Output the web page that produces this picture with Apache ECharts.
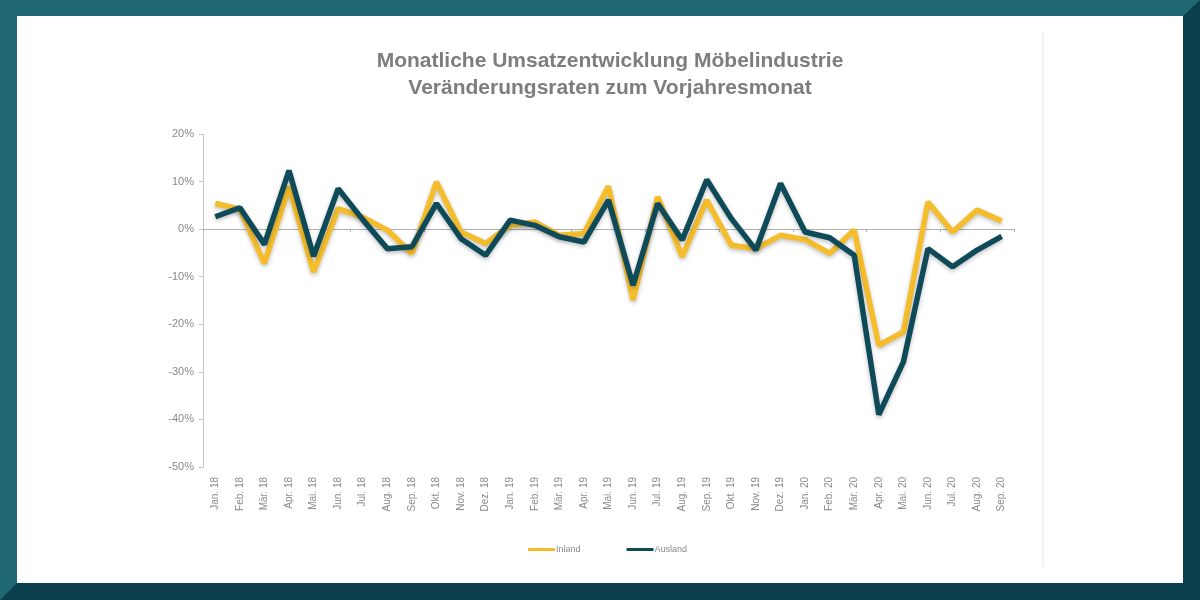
<!DOCTYPE html>
<html>
<head>
<meta charset="utf-8">
<script src="https://cdn.jsdelivr.net/npm/echarts@6/dist/echarts.min.js"></script>
<style>
  html, body { margin: 0; padding: 0; }
  body { width: 1200px; height: 600px; position: relative; overflow: hidden; }
  #frame {
    position: absolute; left: 0; top: 0; width: 1200px; height: 600px;
    box-sizing: border-box; background: #fff;
    border-style: solid; border-width: 16px 17px 17px 17px;
    border-color: #1f6874 #0b3f4c #0b3f4c #1f6874;
  }
  #sep { position: absolute; left: 1042px; top: 32px; width: 2px; height: 535px; background: #f2f2f2; }
  #main { position: absolute; left: 0; top: 0; width: 1200px; height: 600px; }
</style>
</head>
<body>
<div id="frame"></div>
<div id="sep"></div>
<div id="main"></div>
<script>
// Monate Jan. 18 bis Sep. 20
var months = ['Jan. 18', 'Feb. 18', 'Mär. 18', 'Apr. 18', 'Mai. 18', 'Jun. 18', 'Jul. 18', 'Aug. 18', 'Sep. 18', 'Okt. 18', 'Nov. 18', 'Dez. 18',
              'Jan. 19', 'Feb. 19', 'Mär. 19', 'Apr. 19', 'Mai. 19', 'Jun. 19', 'Jul. 19', 'Aug. 19', 'Sep. 19', 'Okt. 19', 'Nov. 19', 'Dez. 19',
              'Jan. 20', 'Feb. 20', 'Mär. 20', 'Apr. 20', 'Mai. 20', 'Jun. 20', 'Jul. 20', 'Aug. 20', 'Sep. 20'];

// Veränderung zum Vorjahresmonat in %
var inland = [5.4, 4.2, -7.2, 8.9, -9.0, 4.3, 2.5, -0.2, -5.1, 9.9, -0.6, -3.0,
              0.8, 1.5, -1.3, -0.9, 9.0, -14.9, 6.8, -5.8, 6.1, -3.4, -4.1, -1.3,
              -2.2, -5.1, -0.2, -24.4, -21.6, 5.7, -0.6, 4.0, 1.7];
var ausland = [2.6, 4.5, -3.2, 12.3, -5.7, 8.5, 2.0, -4.1, -3.7, 5.4, -2.0, -5.5,
               1.9, 0.8, -1.6, -2.7, 6.1, -11.8, 5.4, -2.3, 10.4, 2.2, -4.4, 9.6,
               -0.6, -1.8, -5.5, -39.0, -27.9, -4.1, -7.9, -4.4, -1.5];

var yTicks = [-50, -40, -30, -20, -10, 0, 10, 20];

var chart = echarts.init(document.getElementById('main'));

var lineShadow = { shadowColor: 'rgba(0,0,0,0.25)', shadowBlur: 4, shadowOffsetY: 2 };

chart.setOption({
    textStyle: { fontFamily: 'Liberation Sans, Arial, sans-serif' },
    title: {
        text: 'Monatliche Umsatzentwicklung Möbelindustrie\nVeränderungsraten zum Vorjahresmonat',
        left: 605, top: 43, textAlign: 'center',
        textStyle: { color: '#7d7d7d', fontSize: 21, fontWeight: 'bold', lineHeight: 27 }
    },
    legend: {
        left: 523, top: 540,
        itemWidth: 27, itemHeight: 3, itemGap: 46,
        icon: 'rect',
        textStyle: { color: '#8a8a8a', fontSize: 9, padding: [0, 0, 0, -4] },
        data: ['Inland', 'Ausland']
    },
    grid: { left: 203, right: 186, top: 134, bottom: 133 },
    xAxis: [{
        type: 'category',
        data: months,
        axisLine: { onZero: true, lineStyle: { color: '#b0b0b0', width: 1 } },
        axisTick: { show: true, length: 3, lineStyle: { color: '#b0b0b0' } },
        axisLabel: { show: false }
    }, {
        type: 'category',
        data: months,
        position: 'bottom',
        axisLine: { show: false },
        axisTick: { show: false },
        axisLabel: { rotate: 90, margin: 10, color: '#8a8a8a', fontSize: 10, interval: 0 }
    }],
    yAxis: {
        type: 'value',
        min: -50, max: 20, interval: 10,
        axisLine: { show: true, lineStyle: { color: '#c4c4c4' } },
        axisTick: { show: true, length: 4, lineStyle: { color: '#c4c4c4' } },
        splitLine: { show: false },
        axisLabel: {
            color: '#8a8a8a', fontSize: 11, margin: 9,
            formatter: function (v) { return yTicks.indexOf(v) >= 0 ? v + '%' : ''; }
        }
    },
    series: [{
        name: 'Inland',
        type: 'line',
        data: inland,
        symbol: 'none',
        color: '#f5bd2b',
        lineStyle: Object.assign({ width: 5.5, color: '#f5bd2b' }, lineShadow),
        z: 2
    }, {
        name: 'Ausland',
        type: 'line',
        data: ausland,
        symbol: 'none',
        color: '#0f4a59',
        lineStyle: Object.assign({ width: 5.5, color: '#0f4a59' }, lineShadow),
        z: 3
    }]
});
</script>
</body>
</html>
